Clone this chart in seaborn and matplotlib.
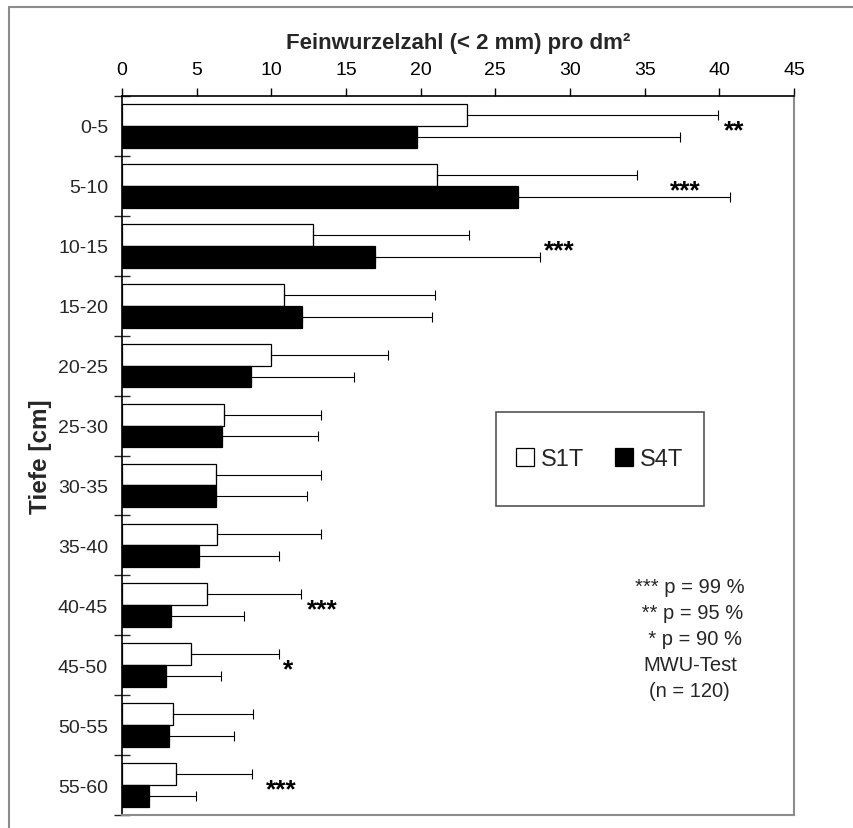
import numpy as np
import pandas as pd
import matplotlib
matplotlib.use("Agg")
import matplotlib.pyplot as plt
from matplotlib.lines import Line2D
from matplotlib.patches import Rectangle
import seaborn as sns

# Fine-root counts per dm² by soil depth, two stands (mean and standard deviation)
depths = ["0-5", "5-10", "10-15", "15-20", "20-25", "25-30",
          "30-35", "35-40", "40-45", "45-50", "50-55", "55-60"]
s1t_mean = [23.09, 21.08, 12.81, 10.83, 9.96, 6.85, 6.32, 6.38, 5.71, 4.64, 3.44, 3.60]
s1t_sd = [16.80, 13.40, 10.45, 10.10, 7.85, 6.50, 7.03, 6.97, 6.30, 5.88, 5.33, 5.11]
s4t_mean = [19.74, 26.54, 16.97, 12.04, 8.64, 6.72, 6.28, 5.14, 3.26, 2.95, 3.13, 1.81]
s4t_sd = [17.65, 14.20, 11.00, 8.75, 6.90, 6.43, 6.13, 5.38, 4.91, 3.70, 4.39, 3.13]
series = ["S1T", "S4T"]

# Significance marks (MWU test): depth class, x position, label
sig_depths = ["0-5", "5-10", "10-15", "40-45", "45-50", "55-60"]
sig_x = [41.0, 37.7, 29.3, 13.4, 11.1, 10.7]
sig_marks = ["**", "***", "***", "***", "*", "***"]

x_ticks = [0, 5, 10, 15, 20, 25, 30, 35, 40, 45]

df = pd.DataFrame({
    "Tiefe": depths * 2,
    "Serie": [series[0]] * len(depths) + [series[1]] * len(depths),
    "Wert": s1t_mean + s4t_mean,
})

sns.set_style("white")
plt.rcParams["font.family"] = ["Liberation Sans", "DejaVu Sans"]

fig = plt.figure(figsize=(8.54, 8.29), dpi=100)
ax = fig.add_axes([122 / 854, 1 - 816 / 829, (794 - 122) / 854, (816 - 97) / 829])

sns.barplot(data=df, x="Wert", y="Tiefe", hue="Serie", order=depths,
            hue_order=series, palette={"S1T": "white", "S4T": "black"},
            orient="h", width=0.73, edgecolor="black", linewidth=0.9,
            errorbar=None, ax=ax)

# one-sided error bars (+SD) at the end of each bar
for container, sds in zip(ax.containers, [s1t_sd, s4t_sd]):
    for bar, sd in zip(container, sds):
        yc = bar.get_y() + bar.get_height() / 2
        ax.errorbar(bar.get_width(), yc, xerr=[[0], [sd]], fmt="none",
                    ecolor="black", elinewidth=0.8, capsize=3.3, capthick=0.8,
                    zorder=1)

# significance stars
for d, xv, m in zip(sig_depths, sig_x, sig_marks):
    ax.text(xv, depths.index(d) + 0.07, m, ha="center", va="center",
            fontsize=19, fontweight="bold", color="black")

ax.set_xlim(0, 45)
ax.set_ylim(len(depths) - 0.5, -0.5)
ax.xaxis.tick_top()
ax.xaxis.set_label_position("top")
ax.set_xticks(x_ticks)
ax.set_xticklabels([str(t) for t in x_ticks])
ax.tick_params(axis="x", which="major", direction="out", length=6, width=1,
               pad=7, labelsize=14, colors="black", top=True, bottom=False)
ax.set_yticks(np.arange(len(depths)))
ax.set_yticklabels(depths)
ax.set_yticks(np.arange(-0.5, len(depths), 1), minor=True)
ax.tick_params(axis="y", which="major", length=0, pad=10, labelsize=14)
ax.tick_params(axis="y", which="minor", direction="inout", length=11,
               width=1, left=True)

ax.set_xlabel("Feinwurzelzahl (< 2 mm) pro dm²", fontsize=16,
              fontweight="bold", labelpad=9)
ax.set_ylabel("Tiefe [cm]", fontsize=17.5, fontweight="bold", labelpad=4)

for side in ["top", "left"]:
    ax.spines[side].set_color("black")
    ax.spines[side].set_linewidth(1.2)
for side in ["right", "bottom"]:
    ax.spines[side].set_color("#8c8c8c")
    ax.spines[side].set_linewidth(1.5)
    ax.spines[side].set_visible(True)

# legend inside a plain rectangular box
handles, labels = ax.get_legend_handles_labels()
ax.get_legend().remove()
box = Rectangle((0.5565, 0.4298), 0.3095, 0.1307, transform=ax.transAxes,
                facecolor="white", edgecolor="#555555", linewidth=1.2, zorder=3)
ax.add_patch(box)
leg = ax.legend(handles, labels, loc="center", bbox_to_anchor=(0.711, 0.495),
                ncol=2, frameon=False, fontsize=17, handlelength=0.75,
                handleheight=0.75, handletextpad=0.3, columnspacing=1.3,
                borderpad=0)
leg.set_zorder(4)

ax.text(0.845, 0.245,
        "*** p = 99 %\n ** p = 95 %\n  * p = 90 %\nMWU-Test\n(n = 120)",
        transform=ax.transAxes, ha="center", va="center",
        multialignment="center", fontsize=14.5, linespacing=1.47)

# outer frame
fig.add_artist(Line2D([9.5 / 854, 9.5 / 854], [0, 1 - 7.5 / 829],
                      transform=fig.transFigure, color="#8c8c8c", lw=1.5))
fig.add_artist(Line2D([9.5 / 854, 1], [1 - 7.5 / 829, 1 - 7.5 / 829],
                      transform=fig.transFigure, color="#8c8c8c", lw=1.5))

fig.savefig("out.png", dpi=100, facecolor="white")
